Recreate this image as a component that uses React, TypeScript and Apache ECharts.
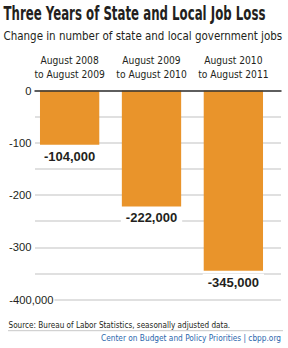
import React, { useEffect, useRef } from "react";
import * as echarts from "echarts";

const categories = [
  "August 2008\nto August 2009",
  "August 2009\nto August 2010",
  "August 2010\nto August 2011",
];
const jobChange = [-104000, -222000, -345000];
const yTickValues = [0, -100000, -200000, -300000];
const yTickLabels = ["0", "-100", "-200", "-300"];
const bottomTickValue = -400000;
const bottomTickLabel = "-400,000";

const titleText = "Three Years of State and Local Job Loss";
const subtitleText = "Change in number of state and local government jobs";
const sourceText = "Source: Bureau of Labor Statistics, seasonally adjusted data.";
const creditText = "Center on Budget and Policy Priorities | cbpp.org";

const COND = "'DejaVu Sans Condensed', 'DejaVu Sans', sans-serif";
const ARIAL = "'Liberation Sans', Arial, sans-serif";
const TEXT = "#231f20";

function measure(text: string, font: string): number {
  const c = document.createElement("canvas");
  const ctx = c.getContext("2d");
  if (!ctx) return 1;
  ctx.font = font;
  return ctx.measureText(text).width || 1;
}

export default function App() {
  const ref = useRef<HTMLDivElement>(null);
  useEffect(() => {
    if (!ref.current) return;
    const chart = echarts.init(ref.current, null, { renderer: "svg" });
    const fmt = (v: number) => v.toLocaleString("en-US");

    const fitText = (
      text: string,
      size: number,
      weight: string,
      target: number,
      x: number,
      y: number,
      align: string,
      fill: string
    ) => {
      const w = measure(text, `${weight} ${size}px "DejaVu Sans Condensed"`);
      return {
        type: "text",
        x,
        y,
        scaleX: target / w,
        z: 20,
        style: {
          text,
          fontFamily: COND,
          fontWeight: weight,
          fontSize: size,
          fill,
          textAlign: align,
          textVerticalAlign: "middle",
        },
      };
    };

    chart.setOption({
      animation: false,
      backgroundColor: "#ffffff",
      textStyle: { fontFamily: COND },
      grid: [
        { left: 28.7, right: 13.7, top: 90.5, bottom: 48.5 },
        { left: 35, right: 7, top: 90.5, bottom: 48.5 },
      ],
      xAxis: [
        {
          type: "category",
          gridIndex: 0,
          position: "top",
          data: categories,
          axisLine: { show: false },
          axisTick: { show: false },
          axisLabel: {
            interval: 0,
            color: TEXT,
            fontFamily: COND,
            fontSize: 10.2,
            lineHeight: 14.3,
            margin: 9,
          },
        },
        {
          type: "value",
          gridIndex: 1,
          position: "top",
          min: 0,
          max: 1,
          z: 10,
          axisLine: { show: true, onZero: false, lineStyle: { color: "#333333", width: 1.5 } },
          axisTick: { show: false },
          axisLabel: { show: false },
          splitLine: { show: false },
        },
      ],
      yAxis: [
        {
          type: "value",
          gridIndex: 0,
          min: -400000,
          max: 0,
          show: false,
        },
        {
          type: "value",
          gridIndex: 1,
          min: -400000,
          max: 0,
          interval: 50000,
          axisLine: { show: false },
          axisTick: { show: false },
          splitLine: { show: true, lineStyle: { color: "#d6d6d6", width: 1.5 } },
          axisLabel: {
            color: TEXT,
            fontFamily: ARIAL,
            fontSize: 11.2,
            margin: 3.5,
            formatter: (v: number) => {
              const i = yTickValues.indexOf(v);
              return i >= 0 ? yTickLabels[i] : "";
            },
          },
        },
        {
          type: "value",
          gridIndex: 1,
          position: "left",
          min: -400000,
          max: 0,
          interval: 50000,
          z: 5,
          axisLine: { show: false },
          axisTick: { show: false },
          splitLine: { show: false },
          axisLabel: {
            color: TEXT,
            fontFamily: ARIAL,
            fontSize: 11.2,
            align: "left",
            margin: 25.7,
            backgroundColor: "#ffffff",
            padding: [0, 1, 0, 0],
            formatter: (v: number) => (v === bottomTickValue ? bottomTickLabel : ""),
          },
        },
      ],
      series: [
        {
          type: "bar",
          xAxisIndex: 0,
          yAxisIndex: 0,
          data: jobChange,
          barWidth: 59.3,
          itemStyle: { color: "#e9942b" },
          label: {
            show: true,
            position: "bottom",
            distance: 3,
            color: TEXT,
            fontFamily: ARIAL,
            fontWeight: "bold",
            fontSize: 13,
            lineHeight: 15,
            backgroundColor: "#ffffff",
            padding: [1, 5, 1, 5],
            formatter: (p: any) => fmt(p.value),
          },
        },
      ],
      graphic: [
        fitText(titleText, 19, "bold", 262, 3.5, 14, "left", TEXT),
        fitText(subtitleText, 12.8, "normal", 279, 3.5, 36.2, "left", TEXT),
        fitText(sourceText, 9.2, "normal", 222, 8.5, 324.5, "left", TEXT),
        {
          type: "line",
          shape: { x1: 8, y1: 330.7, x2: 283, y2: 330.7 },
          style: { stroke: "#c8c8c8", lineWidth: 1 },
        },
        fitText(creditText, 9.2, "normal", 180, 281, 338.2, "right", "#2a67ad"),
      ],
    });
    return () => chart.dispose();
  }, []);
  return <div ref={ref} style={{ width: 288, height: 348, position: "absolute", left: 0, top: 0 }} />;
}
